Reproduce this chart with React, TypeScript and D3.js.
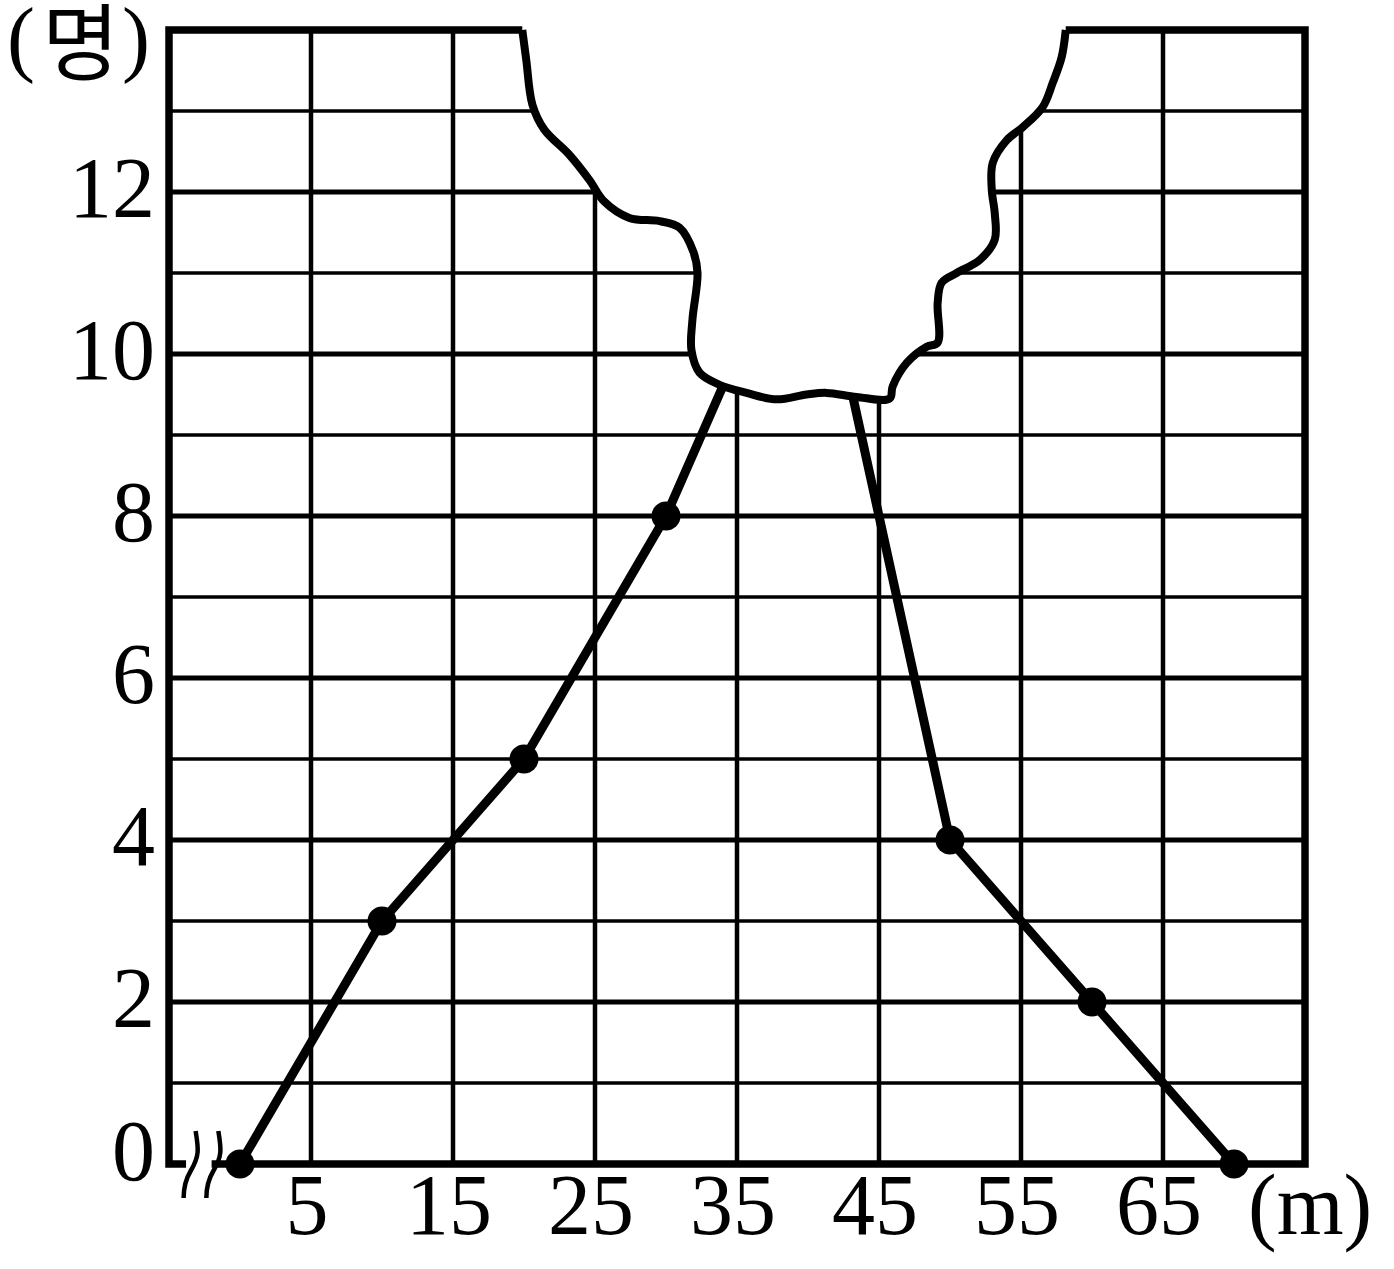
import React from "react";
import * as d3 from "d3";

// ---- data ----
const distances = [0, 10, 20, 30, 40, 50, 60, 70];
const people = [0, 3, 5, 8, 12, 4, 2, 0];
const xTickLabels = [5, 15, 25, 35, 45, 55, 65];
const xGridValues = [5, 15, 25, 35, 45, 55, 65];
const yTickLabels = [0, 2, 4, 6, 8, 10, 12];
const yGridValues = [1, 2, 3, 4, 5, 6, 7, 8, 9, 10, 11, 12, 13];
// torn-paper outline (in data units: metres, persons)
const tornX = [19.88, 20.16, 20.59, 21.43, 23.19, 24.6, 25.66, 27.42, 29.54, 30.95, 31.93, 32.22, 31.86, 31.79, 32.36, 33.77, 35.67, 37.78, 39.9, 41.31, 43.42, 45.75, 45.96, 46.95, 48.36, 49.13, 49.13, 49.41, 50.47, 52.09, 53.15, 53.15, 52.94, 53.01, 54.0, 55.12, 56.53, 57.24, 57.87, 58.15];
const tornY = [14.0, 13.63, 13.08, 12.77, 12.46, 12.15, 11.88, 11.68, 11.64, 11.56, 11.26, 11.0, 10.42, 10.05, 9.77, 9.62, 9.52, 9.44, 9.5, 9.52, 9.47, 9.45, 9.6, 9.89, 10.09, 10.14, 10.63, 10.88, 11.0, 11.16, 11.41, 11.74, 12.03, 12.36, 12.64, 12.8, 13.05, 13.35, 13.67, 14.0];

const W = 1394;
const H = 1269;

export default function App() {
  const x = d3.scaleLinear().domain([-5, 75]).range([169, 1305]);
  const y = d3.scaleLinear().domain([0, 14]).range([1164, 30]);

  const dataLine = d3
    .line<number>()
    .x((_, i) => x(distances[i]))
    .y((d) => y(d))(people) as string;

  const tornPts: [number, number][] = tornX.map((v, i) => [x(v), y(tornY[i])]);
  const tornCurve = d3.line().curve(d3.curveCatmullRom.alpha(0.5))(tornPts) as string;
  const tornFill =
    tornCurve +
    `L${x(tornX[tornX.length - 1])},${y(14.12)}L${x(tornX[0])},${y(14.12)}Z`;

  // axis-break squiggles (decorative)
  const breakCurve = (x0: number) => {
    const p = d3.path();
    const bx = x(x0);
    p.moveTo(bx + 11, y(0) - 33);
    p.bezierCurveTo(bx + 14, y(0) - 15, bx + 15, y(0) - 8, bx + 6, y(0) + 7);
    p.bezierCurveTo(bx + 0, y(0) + 17, bx - 1, y(0) + 25, bx - 1, y(0) + 34);
    return p.toString();
  };

  const font = "'Liberation Serif', 'Times New Roman', serif";

  return (
    <svg
      width={W}
      height={H}
      style={{ position: "absolute", left: 0, top: 0, background: "#fff" }}
    >
      <rect x={0} y={0} width={W} height={H} fill="#fff" />
      {/* horizontal grid */}
      {yGridValues.map((v) => (
        <line
          key={"h" + v}
          x1={x(-5)}
          x2={x(75)}
          y1={y(v)}
          y2={y(v)}
          stroke="#000"
          strokeWidth={v % 2 === 0 ? 5 : 3.5}
        />
      ))}
      {/* vertical grid */}
      {xGridValues.map((v) => (
        <line
          key={"v" + v}
          x1={x(v)}
          x2={x(v)}
          y1={y(0)}
          y2={y(14)}
          stroke="#000"
          strokeWidth={4.5}
        />
      ))}
      {/* frame */}
      <rect
        x={x(-5)}
        y={y(14)}
        width={x(75) - x(-5)}
        height={y(0) - y(14)}
        fill="none"
        stroke="#000"
        strokeWidth={7.5}
      />
      {/* axis break gap */}
      <rect x={x(-3.8)} y={y(0) - 6} width={x(-2.0) - x(-3.8)} height={12} fill="#fff" />
      <path d={breakCurve(-3.9)} fill="none" stroke="#000" strokeWidth={4.5} />
      <path d={breakCurve(-2.3)} fill="none" stroke="#000" strokeWidth={4.5} />

      {/* data line */}
      <path d={dataLine} fill="none" stroke="#000" strokeWidth={9} strokeLinejoin="round" />
      {distances.map((d, i) => (
        <circle key={"c" + i} cx={x(d)} cy={y(people[i])} r={14.5} fill="#000" />
      ))}

      {/* torn paper */}
      <path d={tornFill} fill="#fff" stroke="none" />
      <path d={tornCurve} fill="none" stroke="#000" strokeWidth={8} strokeLinejoin="round" />

      {/* y labels */}
      {yTickLabels.map((v) => (
        <text
          key={"yl" + v}
          x={155}
          y={y(v) + (v === 0 ? 16 : 25)}
          textAnchor="end"
          fontFamily={font}
          fontSize={86}
          fill="#000"
        >
          {v}
        </text>
      ))}
      {/* x labels */}
      {xTickLabels.map((v) => (
        <text
          key={"xl" + v}
          x={x(v) - 4}
          y={1234}
          textAnchor="middle"
          fontFamily={font}
          fontSize={86}
          fill="#000"
        >
          {v}
        </text>
      ))}
      <text x={1248} y={1234} fontFamily={font} fontSize={86} fill="#000">
        (m)
      </text>
      <text x={7} y={66} fontFamily={font} fontSize={84} fill="#000">
        (
      </text>
      <text
        x={42}
        y={74}
        fontFamily="'Noto Sans CJK KR', sans-serif"
        fontSize={84}
        fill="#000"
      >
        명
      </text>
      <text x={122} y={66} fontFamily={font} fontSize={84} fill="#000">
        )
      </text>
    </svg>
  );
}
